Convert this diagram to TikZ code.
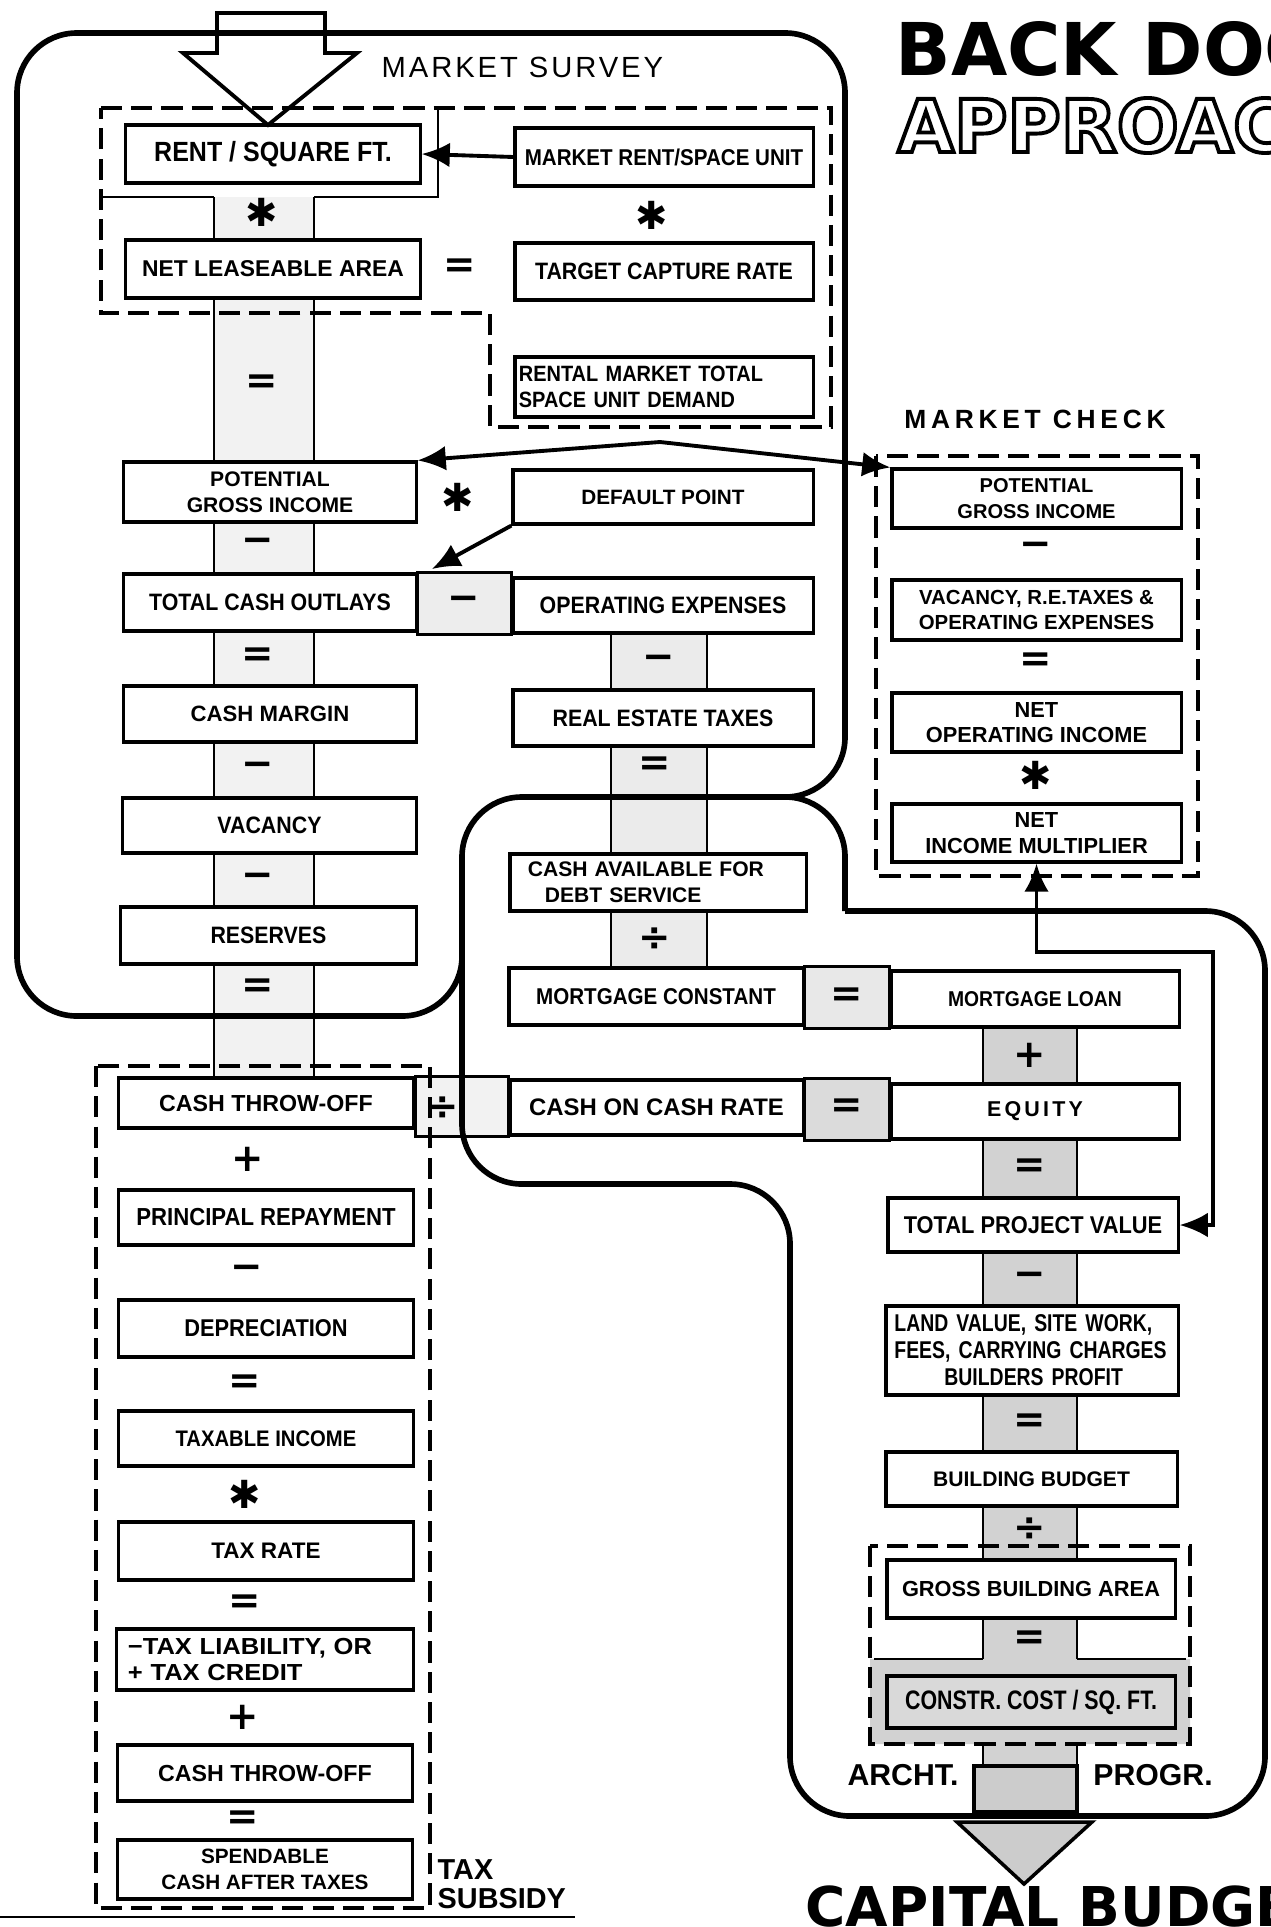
\documentclass[tikz,border=0pt]{standalone}
\usepackage{fontspec}
\setmainfont{Liberation Sans}
\newfontfamily\cndA{Liberation Sans}[FakeStretch=0.8]
\newfontfamily\cndB{Liberation Sans}[FakeStretch=0.9]
\newfontfamily\wideF{Liberation Sans}[FakeStretch=1.1]
\newfontfamily\symF{DejaVu Sans}
\usetikzlibrary{calc,arrows.meta}
\pgfdeclarelayer{bg}
\pgfsetlayers{bg,main}
\newcommand{\lett}[2]{#1\bfseries\fontsize{#2}{7.3}\selectfont}
\newcommand{\starop}{{\mdseries ✱}}
\newcommand{\outlined}[1]{\special{pdf:literal direct 1 Tr 1.1 w}#1\special{pdf:literal direct 0 Tr 1 w}}

\begin{document}
\begin{tikzpicture}[x=0.01cm,y=-0.01cm,>={Latex[length=8pt,width=7pt]},
  box/.style 2 args={draw,line width=0.9pt,fill=white,inner sep=0pt,align=center,
    minimum width=#1cm,minimum height=#2cm},
  op/.style={inner sep=0pt,font=\symF\bfseries\fontsize{11}{11}\selectfont},
  loopline/.style={line width=1.6pt,rounded corners=17pt},
  dashbox/.style={line width=1.1pt,dash pattern=on 6pt off 2.6pt},
  spineline/.style={line width=0.6pt},
  arr/.style={line width=1.1pt},
  label/.style={inner sep=0pt},
  titleB/.style={inner sep=0pt,font=\symF\bfseries\fontsize{20.7}{22}\selectfont}]
  \useasboundingbox (0,0) rectangle (1271,1927);

  % title
  \node[titleB,anchor=base west] (back) at (895,75) {BACK DOOR};
  \node[titleB,anchor=base west] (appr) at (897,152) {\outlined{APPROACH}};
  \node[titleB,anchor=base west,font=\symF\bfseries\fontsize{15.6}{16}\selectfont] (capb) at (805,1926) {CAPITAL BUDGET};

  % market survey group
  \node[box={2.94}{0.58},font=\lett\cndB{7.9}] (rent) at (273,154) {RENT / SQUARE FT.};
  \node[box={2.98}{0.58},font=\lett\cndB{6.5}] (mrent) at (664,157) {MARKET RENT/SPACE UNIT};
  \node[box={2.94}{0.58},font=\lett\rmfamily{6.5}] (netla) at (273,269) {NET LEASEABLE AREA};
  \node[box={2.98}{0.57},font=\lett\cndB{6.75}] (target) at (664,271.5) {TARGET CAPTURE RATE};
  \node[box={2.98}{0.60},font=\lett\cndB{6.3},text width=2.9cm,align=left] (rental) at (664,387)
    {RENTAL MARKET TOTAL\\SPACE UNIT DEMAND};
  \node[box={2.92}{0.60},font=\lett\rmfamily{6}] (pgi) at (270,492) {POTENTIAL\\GROSS INCOME};
  \node[box={3.00}{0.54},font=\lett\rmfamily{5.9}] (dflt) at (663,497) {DEFAULT POINT};
  \node[box={2.92}{0.57},font=\lett\cndB{6.75}] (tco) at (270,602.5) {TOTAL CASH OUTLAYS};
  \node[box={3.00}{0.55},font=\lett\cndB{6.75}] (opex) at (663,605.5) {OPERATING EXPENSES};
  \node[box={2.92}{0.56},font=\lett\rmfamily{6.3}] (cm) at (270,714) {CASH MARGIN};
  \node[box={3.00}{0.56},font=\lett\cndB{6.75}] (ret) at (663,718) {REAL ESTATE TAXES};
  \node[box={2.93}{0.55},font=\lett\cndB{6.75}] (vac) at (269.5,825.5) {VACANCY};
  \node[box={2.95}{0.57},font=\lett\cndB{6.75}] (res) at (268.5,935.5) {RESERVES};

  % financing chain
  \node[box={2.96}{0.57},font=\lett\rmfamily{6},text width=2.6cm,align=left] (cads) at (658,882.5)
    {CASH AVAILABLE FOR\\\hspace*{0.8em}DEBT SERVICE};
  \node[box={2.94}{0.57},font=\lett\cndB{6.5}] (mcst) at (656,996.5) {MORTGAGE CONSTANT};
  \node[box={2.88}{0.56},font=\lett\cndB{6.1}] (ml) at (1035,999) {MORTGAGE LOAN};
  \node[box={2.93}{0.55},font=\lett\rmfamily{6.8}] (coc) at (656.5,1107.5) {CASH ON CASH RATE};
  \node[box={2.88}{0.55},font=\lett\rmfamily{6.1}\addfontfeature{LetterSpace=15}] (eq) at (1035,1111.5) {EQUITY};
  \node[box={2.90}{0.54},font=\lett\cndB{6.9}] (tpv) at (1033,1225) {TOTAL PROJECT VALUE};
  \node[box={2.92}{0.89},font=\cndA\bfseries\fontsize{6.9}{7.7}\selectfont,text width=2.75cm,align=left] (land) at (1032,1350.5)
    {LAND VALUE, SITE WORK,\\FEES, CARRYING CHARGES\\\hspace*{0.5cm}BUILDERS PROFIT};
  \node[box={2.91}{0.54},font=\lett\rmfamily{6}] (bb) at (1031.5,1479) {BUILDING BUDGET};
  \node[box={2.88}{0.58},font=\lett\rmfamily{6.2}] (gba) at (1031,1589) {GROSS BUILDING AREA};
  \node[box={2.88}{0.52},fill=gray!30,font=\lett\cndA{7.6}] (constr) at (1031,1702) {CONSTR. COST / SQ. FT.};

  % market check
  \node[box={2.89}{0.59},font=\lett\rmfamily{5.7}] (mcpgi) at (1036.5,498.5) {POTENTIAL\\GROSS INCOME};
  \node[box={2.89}{0.60},font=\lett\rmfamily{5.8}] (mcvac) at (1036.5,610) {VACANCY, R.E.TAXES \&\\OPERATING EXPENSES};
  \node[box={2.89}{0.59},font=\lett\rmfamily{6.2}] (noi) at (1036.5,722.5) {NET\\OPERATING INCOME};
  \node[box={2.89}{0.58},font=\lett\rmfamily{6.2}] (nim) at (1036.5,833) {NET\\INCOME MULTIPLIER};

  % tax subsidy
  \node[box={2.95}{0.50},font=\lett\rmfamily{6.6}] (cto) at (266,1103) {CASH THROW-OFF};
  \node[box={2.95}{0.55},font=\lett\cndB{7}] (prin) at (266,1217.5) {PRINCIPAL REPAYMENT};
  \node[box={2.95}{0.57},font=\lett\cndB{6.9}] (dep) at (266,1328.5) {DEPRECIATION};
  \node[box={2.95}{0.55},font=\lett\cndB{6.4}] (taxinc) at (266,1438.5) {TAXABLE INCOME};
  \node[box={2.95}{0.58},font=\lett\rmfamily{6.4}] (taxrate) at (266,1551) {TAX RATE};
  \node[box={2.97}{0.61},font=\lett\wideF{6.6},text width=2.74cm,align=left] (taxlia) at (265,1659.5)
    {−TAX LIABILITY, OR\\+ TAX CREDIT};
  \node[box={2.95}{0.56},font=\lett\rmfamily{6.6}] (cto2) at (265,1773) {CASH THROW-OFF};
  \node[box={2.95}{0.59},font=\lett\rmfamily{5.9}] (spend) at (265,1869.5) {SPENDABLE\\CASH AFTER TAXES};

  % labels
  \node[label,anchor=west,font=\fontsize{8.3}{9}\selectfont\addfontfeature{LetterSpace=10}] (msurv) at (381,67) {MARKET SURVEY};
  \node[label,font=\bfseries\fontsize{7.5}{8}\selectfont\addfontfeature{LetterSpace=18}] (mcheck) at (1035,419) {MARKET CHECK};
  \node[label,font=\bfseries\fontsize{8.6}{9}\selectfont] (archt) at (903,1775) {ARCHT.};
  \node[label,font=\bfseries\fontsize{8.6}{9}\selectfont] (progr) at (1153,1775) {PROGR.};
  \node[label,anchor=north west,align=left,font=\bfseries\fontsize{8.2}{8.3}\selectfont] (taxsub) at (437,1859) {TAX\\SUBSIDY};

  % stippled spines and bands
  \begin{pgfonlayer}{bg}
    \fill[gray!10] (214,197) rectangle (314,1077);
    \draw[spineline] (214,197) -- (214,1077) (314,197) -- (314,1077);
    \draw[spineline] (101,197) -- (214,197) (314,197) -- (438,197) -- (438,108);
    \fill[gray!16] (611,633) rectangle (707,968);
    \draw[spineline] (611,633) -- (611,968) (707,633) -- (707,968);
    \fill[gray!35] (983,1027) rectangle (1077,1766) (870,1659) rectangle (1190,1744);
    \draw[spineline] (983,1027) -- (983,1659) (1077,1027) -- (1077,1659)
      (983,1744) -- (983,1766) (1077,1744) -- (1077,1766);
    \draw[spineline] (874,1659) -- (983,1659) (1077,1659) -- (1186,1659);
    \filldraw[fill=gray!14,line width=0.9pt] (tco.north east) rectangle (opex.south west);
    \filldraw[fill=gray!18,line width=0.9pt] (mcst.north east) rectangle (ml.south west);
    \filldraw[fill=gray!28,line width=0.9pt] (coc.north east) rectangle (eq.south west);
    \filldraw[fill=gray!10,line width=0.9pt] (cto.north east) rectangle (coc.south west);
  \end{pgfonlayer}

  % operators
  \foreach \x/\y/\s [count=\i] in {262/212/\starop, 262/384/=, 258/545/−, 258/657/=, 258/769/−,
      258/880/−, 258/988/=, 652/215/\starop, 460/268/=, 458/497/\starop, 464/603/−,
      659/662/−, 655/766/=, 655/939/÷, 847/997/=, 847/1108/=, 443/1108/÷,
      1030/1055/+, 1030/1168/=, 1030/1279/−, 1030/1423/=, 1030/1529/÷, 1030/1640/=,
      1036/549/−, 1036/662/=, 1036/775/\starop,
      248/1159/+, 247/1272/−, 245/1384/=, 245/1494/\starop, 245/1604/=, 243/1717/+, 243/1820/=}
    \node[op] (o\i) at (\x,\y) {\s};

  % dashed groups
  \draw[dashbox] (101,108) -- (831,108) -- (831,427) -- (490,427) -- (490,313) -- (101,313) -- cycle;
  \draw[dashbox] (876,456) rectangle (1198,876);
  \draw[dashbox] (96,1066) rectangle (430,1908);
  \draw[dashbox] (870,1546) rectangle (1190,1744);

  % survey arrow in, budget arrow out
  \draw[line width=1.1pt] (217,53) -- (217,13) -- (325,13) -- (325,53) -- (357,53) -- (268,125) -- (183,53) -- cycle;
  \filldraw[fill=gray!40,line width=1pt] (974,1766) rectangle (1077,1812);
  \filldraw[fill=gray!40,line width=1pt] (957,1822) -- (1092,1822) -- (1024,1884) -- cycle;

  % the two loops
  \draw[loopline] (462,880) -- (462,1016) -- (17,1016) -- (17,33) -- (845,33) -- (845,797) -- (700,797);
  \draw[loopline] (845,911) -- (1265,911) -- (1265,1816) -- (790,1816) -- (790,1184) -- (462,1184)
    -- (462,797) -- (845,797) -- (845,911);

  % connectors
  \draw[arr,->] (mrent.west) -- (rent.east);
  \coordinate (peak) at (660,442);
  \draw[arr,<->] (pgi.north east) -- (peak) -- (mcpgi.north west);
  \coordinate (dtip) at (432,569);
  \draw[arr,->] (dflt.south west) -- (dtip);
  \coordinate (bend) at (1213,952);
  \draw[arr,<->] (tpv.east) -| (bend) -| (nim.south);

  \draw[line width=0.6pt] (0,1917) -- (575,1917);
\end{tikzpicture}
\end{document}
